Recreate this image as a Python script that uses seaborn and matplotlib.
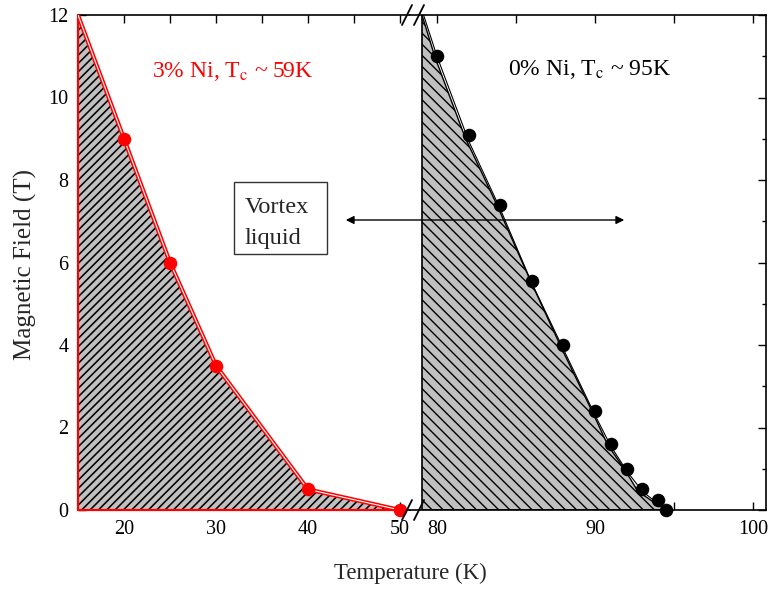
import matplotlib
matplotlib.use("Agg")
import matplotlib.pyplot as plt
from matplotlib.lines import Line2D
from matplotlib.patches import Rectangle, FancyArrowPatch
from matplotlib.ticker import MultipleLocator
import seaborn as sns
import pandas as pd

# ---------------- data ----------------
# 3% Ni sample
ni3_T = [20, 25, 30, 40, 50]
ni3_B = [9.0, 6.0, 3.5, 0.5, 0.0]
ni3_edge_T = [15, 20, 25, 30, 40, 50]
ni3_edge_B = [12.0, 9.0, 6.0, 3.5, 0.5, 0.0]

# 0% Ni sample
ni0_T = [80, 82, 84, 86, 88, 90, 91, 92, 93, 94, 94.5]
ni0_B = [11.0, 9.1, 7.4, 5.55, 4.0, 2.4, 1.6, 1.0, 0.5, 0.25, 0.0]
ni0_edge_T = [79.05, 79.87, 81.77, 83.8, 85.89, 87.85, 89.87, 90.8, 91.9, 92.7, 93.6, 94.6]
ni0_edge_B = [12.0, 10.98, 9.04, 7.39, 5.58, 3.95, 2.35, 1.58, 0.97, 0.46, 0.22, 0.0]
ni0_fit_T = [79.15, 80.0, 82.0, 84.0, 86.0, 88.0, 90.0, 91.0, 92.0, 93.0, 94.0, 94.9]
ni0_fit_B = [12.0, 11.0, 8.95, 7.3, 5.5, 3.9, 2.3, 1.55, 0.95, 0.45, 0.15, 0.0]

left_ticks = [20, 30, 40, 50]
right_ticks = [80, 90, 100]
y_ticks = [0, 2, 4, 6, 8, 10, 12]

label_3 = "3% Ni, T$_\\mathrm{c}$ ~ 59K"
label_0 = "0% Ni, T$_\\mathrm{c}$ ~ 95K"

# ---------------- style ----------------
sns.set_theme(style="ticks")
plt.rcParams["font.family"] = ["Liberation Serif", "DejaVu Serif"]
plt.rcParams["mathtext.fontset"] = "stix"

W, H = 769, 590
fig = plt.figure(figsize=(W / 100, H / 100), dpi=100)

def fx(x):
    return x / W

def fy(y):
    return 1 - y / H

x_left, x_break, x_right = 78, 410, 766
y_top, y_bot = 15, 510

ax1 = fig.add_axes([fx(x_left), fy(y_bot), fx(x_break) - fx(x_left), fy(y_top) - fy(y_bot)])
ax2 = fig.add_axes([fx(x_break), fy(y_bot), fx(x_right) - fx(x_break), fy(y_top) - fy(y_bot)])

ax1.set_xlim(15, 15 + (x_break - x_left) / 9.2)
ax2.set_xlim(80 - (437 - x_break) / 15.8, 80 + (x_right - 437) / 15.8)
for ax in (ax1, ax2):
    ax.set_ylim(0, 12)
    ax.set_facecolor("white")

# ---- left panel (3% Ni) ----
plt.rcParams["hatch.linewidth"] = 1.15
ax1.fill(ni3_edge_T + [50, 15], ni3_edge_B + [0, 0], facecolor="#c0c0c0",
         edgecolor="black", hatch="////", linewidth=0, zorder=1)
df3e = pd.DataFrame({"T": ni3_edge_T, "B": ni3_edge_B})
sns.lineplot(data=df3e, x="T", y="B", ax=ax1, color="red", linewidth=3.0,
             sort=False, estimator=None, zorder=3)
sns.lineplot(data=df3e, x="T", y="B", ax=ax1, color="white", linewidth=0.8,
             sort=False, estimator=None, zorder=4)
ax1.plot([15, 15, 50], [12, 0, 0], color="red", linewidth=1.6, zorder=3, clip_on=False)
df3 = pd.DataFrame({"T": ni3_T, "B": ni3_B})
sns.scatterplot(data=df3, x="T", y="B", ax=ax1, color="red", s=95, edgecolor="red",
                linewidth=0, zorder=5, clip_on=False)

# ---- right panel (0% Ni) ----
plt.rcParams["hatch.linewidth"] = 1.0
ax2.fill(ni0_edge_T + [ni0_edge_T[0]], ni0_edge_B + [0], facecolor="#c0c0c0",
         edgecolor="black", hatch="\\\\\\", linewidth=0, zorder=1)
df0e = pd.DataFrame({"T": ni0_edge_T, "B": ni0_edge_B})
sns.lineplot(data=df0e, x="T", y="B", ax=ax2, color="black", linewidth=1.0,
             sort=False, estimator=None, zorder=3)
ax2.plot([ni0_edge_T[0], ni0_edge_T[0], ni0_edge_T[-1]], [12, 0, 0], color="black",
         linewidth=1.2, zorder=3)
df0f = pd.DataFrame({"T": ni0_fit_T, "B": ni0_fit_B})
sns.lineplot(data=df0f, x="T", y="B", ax=ax2, color="black", linewidth=0.8,
             sort=False, estimator=None, zorder=3)
df0 = pd.DataFrame({"T": ni0_T, "B": ni0_B})
sns.scatterplot(data=df0, x="T", y="B", ax=ax2, color="black", s=95, edgecolor="black",
                linewidth=0, zorder=5, clip_on=False)

# ---- axes cosmetics ----
for ax in (ax1, ax2):
    ax.set_xlabel("")
    ax.set_ylabel("")
    for sp in ax.spines.values():
        sp.set_linewidth(1.2)
        sp.set_color("black")
    ax.yaxis.set_major_locator(MultipleLocator(2))
    ax.yaxis.set_minor_locator(MultipleLocator(1))
    ax.xaxis.set_minor_locator(MultipleLocator(5))
    ax.tick_params(which="major", direction="in", length=6, width=1.0, color="black",
                   labelsize=14.5, pad=7, labelcolor="black")
    ax.tick_params(which="minor", direction="in", length=6, width=1.0, color="black")

ax1.set_xticks(left_ticks)
ax2.set_xticks(right_ticks)
ax1.set_yticks(y_ticks)
ax2.set_yticks(y_ticks)
ax1.spines["right"].set_visible(False)
ax2.spines["left"].set_visible(False)
ax1.tick_params(which="both", top=True, bottom=True, left=True, right=False)
ax1.tick_params(which="minor", length=3, axis="y")
ax2.tick_params(which="both", top=True, bottom=True, left=False, right=True,
                labelleft=False, labelright=False)
ax2.tick_params(which="minor", length=3, axis="y")

# ---- break marks ----
for yc in (y_top, y_bot):
    for xc in (407, 419):
        fig.add_artist(Line2D([fx(xc - 5), fx(xc + 5)], [fy(yc + 10), fy(yc - 10)],
                              color="black", linewidth=1.3, transform=fig.transFigure))

# ---- annotations ----
fig.text(fx(152), fy(77), label_3, color="red", fontsize=17, va="baseline", ha="left")
fig.text(fx(508), fy(75), label_0, color="black", fontsize=17, va="baseline", ha="left")

fig.add_artist(Rectangle((fx(234), fy(254)), fx(327) - fx(234), fy(182) - fy(254),
                         transform=fig.transFigure, facecolor="white", edgecolor="#333333",
                         linewidth=1.0, zorder=6))
fig.text(fx(245), fy(213), "Vortex", fontsize=17.5, va="baseline", ha="left", zorder=7)
fig.text(fx(245), fy(244), "liquid", fontsize=17.5, va="baseline", ha="left", zorder=7)

fig.add_artist(FancyArrowPatch((fx(343), fy(220)), (fx(627), fy(220)),
                               transform=fig.transFigure, arrowstyle="<|-|>",
                               mutation_scale=12, color="black", linewidth=1.0, zorder=6))

fig.text(fx(410), fy(573), "Temperature (K)", fontsize=16.5, ha="center", va="center")
fig.text(fx(25), fy(265), "Magnetic Field (T)", fontsize=18, ha="center", va="center",
         rotation=90)

fig.savefig("out.png", dpi=100, facecolor="white")
